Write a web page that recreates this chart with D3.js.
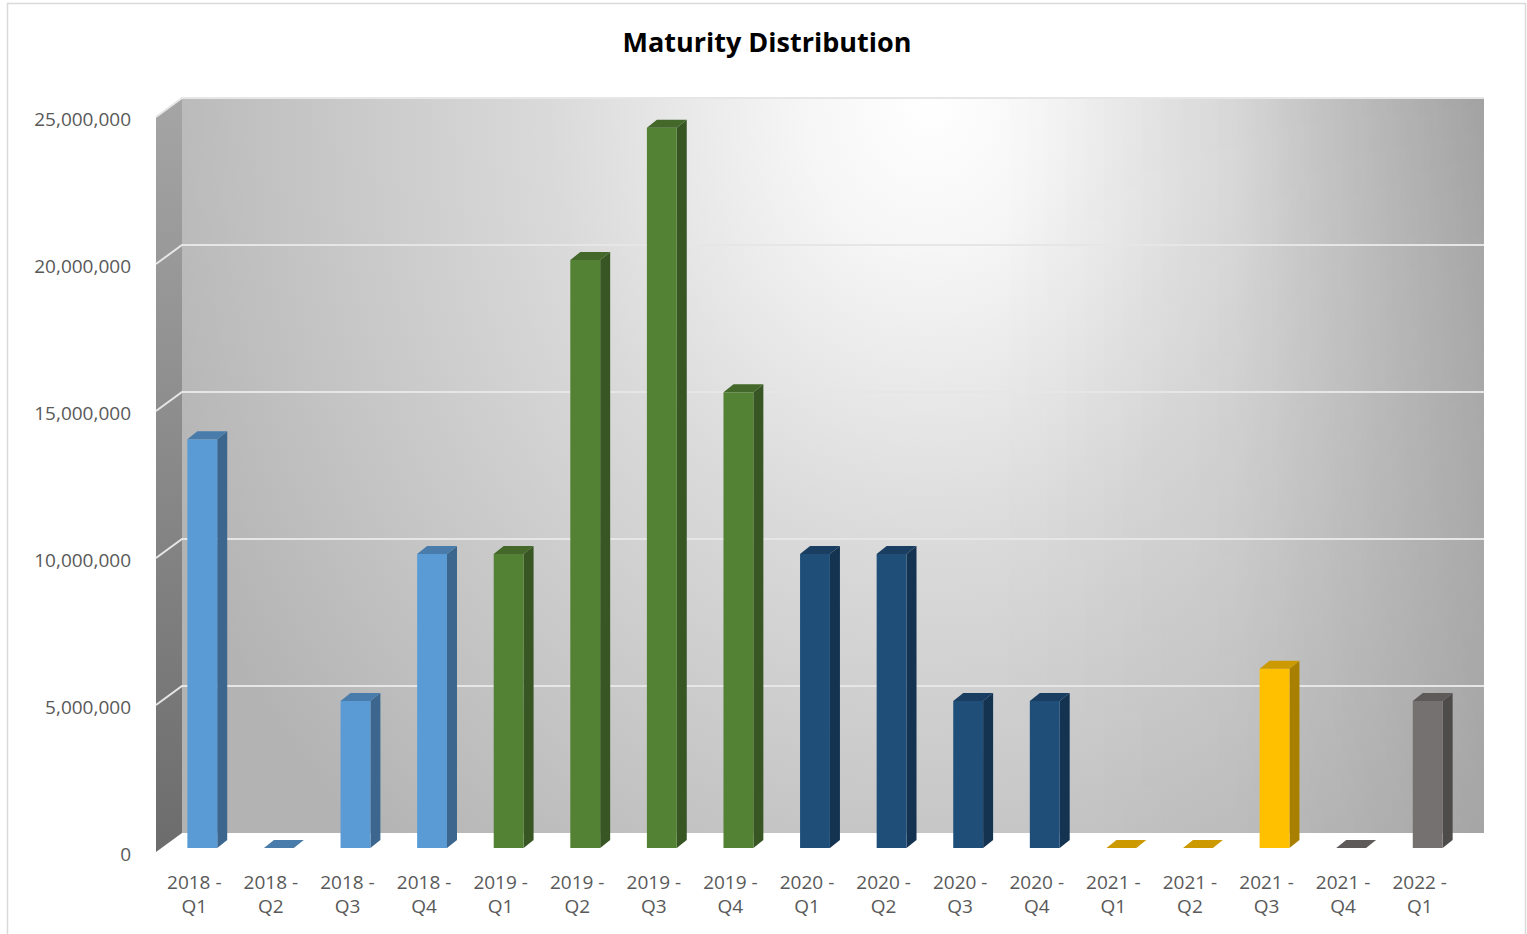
<!DOCTYPE html>
<html>
<head>
<meta charset="utf-8">
<script src="https://cdn.jsdelivr.net/npm/d3@7"></script>
<style>
  html, body { margin: 0; padding: 0; background: #ffffff; }
  svg { display: block; }
</style>
</head>
<body>
<svg id="chart" width="1527" height="934"></svg>
<script>
// ---- data ----
const categories = ["2018 - Q1","2018 - Q2","2018 - Q3","2018 - Q4",
                    "2019 - Q1","2019 - Q2","2019 - Q3","2019 - Q4",
                    "2020 - Q1","2020 - Q2","2020 - Q3","2020 - Q4",
                    "2021 - Q1","2021 - Q2","2021 - Q3","2021 - Q4",
                    "2022 - Q1"];
const values = [13900000, 0, 5000000, 10000000,
                10000000, 20000000, 24500000, 15500000,
                10000000, 10000000, 5000000, 5000000,
                0, 0, 6100000, 0,
                5000000];
// colour group of each category
const groups = ["A","A","A","A",
                "B","B","B","B",
                "C","C","C","C",
                "D","D","D","E",
                "E"];
const groupNames = ["A","B","C","D","E"];
const groupColors = ["#5B9BD5","#548235","#1F4E79","#FFC000","#767171"];
const yTicks = [0, 5000000, 10000000, 15000000, 20000000, 25000000];
const title = "Maturity Distribution";

// ---- layout ----
const svg = d3.select("#chart");
const frontLeft = 156, frontRight = 1458;
const frontBottom = 852, frontTop = 117;
const wallDX = 26, wallDY = -19;       // depth of the plot box
const barOffDX = 8, barOffDY = -4;     // bar front plane offset from box front
const barDX = 10, barDY = -8;          // bar depth

const x = d3.scaleBand().domain(categories).range([frontLeft, frontRight]).padding(0);
const y = d3.scaleLinear().domain([0, 25000000]).range([frontBottom, frontTop]);
const color = d3.scaleOrdinal().domain(groupNames).range(groupColors);
const fmt = d3.format(",");

const defs = svg.append("defs");
const rg = defs.append("radialGradient")
  .attr("id", "wallGrad")
  .attr("gradientUnits", "userSpaceOnUse")
  .attr("cx", 0).attr("cy", 0).attr("r", 1)
  .attr("gradientTransform", "translate(930,100) scale(840,1000)");
[[0, "#ffffff"], [0.15, "#f6f6f6"], [0.45, "#dadada"], [0.75, "#c5c5c5"], [1, "#b3b3b3"]]
  .forEach(([o, c]) => rg.append("stop").attr("offset", o).attr("stop-color", c));

// right-edge darkening (stronger at top, weaker at bottom)
const rgR = defs.append("linearGradient")
  .attr("id", "rightShade").attr("gradientUnits", "userSpaceOnUse")
  .attr("x1", 1000).attr("y1", 0).attr("x2", 1484).attr("y2", 0);
rgR.append("stop").attr("offset", 0).attr("stop-color", "#000").attr("stop-opacity", 0);
rgR.append("stop").attr("offset", 0.5).attr("stop-color", "#000").attr("stop-opacity", 0.05);
rgR.append("stop").attr("offset", 1).attr("stop-color", "#000").attr("stop-opacity", 0.2);
const mg = defs.append("linearGradient")
  .attr("id", "vFade").attr("gradientUnits", "userSpaceOnUse")
  .attr("x1", 0).attr("y1", 98).attr("x2", 0).attr("y2", 833);
mg.append("stop").attr("offset", 0).attr("stop-color", "#fff");
mg.append("stop").attr("offset", 1).attr("stop-color", "#666");
defs.append("mask").attr("id", "vMask")
  .attr("maskUnits", "userSpaceOnUse")
  .append("rect").attr("x", 0).attr("y", 0).attr("width", 1527).attr("height", 934)
  .attr("fill", "url(#vFade)");

const sg = defs.append("linearGradient")
  .attr("id", "sideGrad").attr("x1", 0).attr("y1", 0).attr("x2", 0).attr("y2", 1);
sg.append("stop").attr("offset", 0).attr("stop-color", "#a5a5a5");
sg.append("stop").attr("offset", 1).attr("stop-color", "#6c6c6c");

// chart area border
svg.append("rect")
  .attr("x", 7.5).attr("y", 3.5).attr("width", 1518).attr("height", 1000)
  .attr("fill", "#ffffff").attr("stroke", "#d9d9d9").attr("stroke-width", 1.5);

// title
svg.append("text")
  .attr("x", 767).attr("y", 52)
  .attr("text-anchor", "middle")
  .attr("font-family", "'Open Sans', sans-serif")
  .attr("font-weight", "bold")
  .attr("font-size", 27)
  .attr("fill", "#000000")
  .text(title);

const y0 = y(0), yTop = y(25000000);

// back wall
const wallX = frontLeft + wallDX, wallY = yTop + wallDY;
const wallW = frontRight - frontLeft, wallH = y0 - yTop;
svg.append("rect")
  .attr("x", wallX).attr("y", wallY).attr("width", wallW).attr("height", wallH)
  .attr("fill", "url(#wallGrad)");
svg.append("rect")
  .attr("x", wallX).attr("y", wallY).attr("width", wallW).attr("height", wallH)
  .attr("fill", "url(#rightShade)")
  .attr("mask", "url(#vMask)");

// side wall
svg.append("path")
  .attr("d", `M${frontLeft},${yTop} L${wallX},${wallY} L${wallX},${y0 + wallDY} L${frontLeft},${y0} Z`)
  .attr("fill", "url(#sideGrad)");

// gridlines (including the top edge)
svg.append("g").selectAll("path")
  .data(yTicks.filter(d => d > 0))
  .join("path")
  .attr("d", d => `M${frontLeft},${y(d)} L${frontLeft + wallDX},${y(d) + wallDY} L${frontRight + wallDX},${y(d) + wallDY}`)
  .attr("fill", "none")
  .attr("stroke", "#e6e6e6")
  .attr("stroke-width", 2);

// bars
const bw = x.bandwidth() * 0.39;
const bars = svg.append("g").selectAll("g")
  .data(categories.map((c, i) => ({c, v: values[i], g: groups[i]})))
  .join("g");

bars.each(function(d) {
  const g = d3.select(this);
  const base = d3.color(color(d.g));
  const sideC = d3.rgb(base.r * 0.66, base.g * 0.66, base.b * 0.66);
  const topC = d3.rgb(base.r * 0.8, base.g * 0.8, base.b * 0.8);
  const x0 = x(d.c) + x.bandwidth() / 2 - bw / 2 + barOffDX;
  const x1 = x0 + bw;
  const yb = y(0) + barOffDY;
  const yt = y(d.v) + barOffDY;
  g.append("path")
    .attr("d", `M${x1},${yt} L${x1 + barDX},${yt + barDY} L${x1 + barDX},${yb + barDY} L${x1},${yb} Z`)
    .attr("fill", sideC.formatHex());
  g.append("rect")
    .attr("x", x0).attr("y", yt).attr("width", bw).attr("height", Math.max(0, yb - yt))
    .attr("fill", base.formatHex());
  g.append("path")
    .attr("d", `M${x0},${yt} L${x0 + barDX},${yt + barDY} L${x1 + barDX},${yt + barDY} L${x1},${yt} Z`)
    .attr("fill", topC.formatHex());
});

// y axis labels
svg.append("g").selectAll("text")
  .data(yTicks)
  .join("text")
  .attr("x", 131)
  .attr("y", d => y(d) + 9)
  .attr("text-anchor", "end")
  .attr("font-family", "'Open Sans', sans-serif")
  .attr("font-size", 19)
  .attr("fill", "#595959")
  .text(d => fmt(d));

// x axis labels (two lines)
const xl = svg.append("g").selectAll("text")
  .data(categories)
  .join("text")
  .attr("text-anchor", "middle")
  .attr("font-family", "'Open Sans', sans-serif")
  .attr("font-size", 19)
  .attr("fill", "#595959");
xl.each(function(c) {
  const parts = c.split(" - ");
  const t = d3.select(this);
  const cx = x(c) + x.bandwidth() / 2;
  t.append("tspan").attr("x", cx).attr("y", 889).text(parts[0] + " -");
  t.append("tspan").attr("x", cx).attr("y", 913).text(parts[1]);
});
</script>
</body>
</html>
